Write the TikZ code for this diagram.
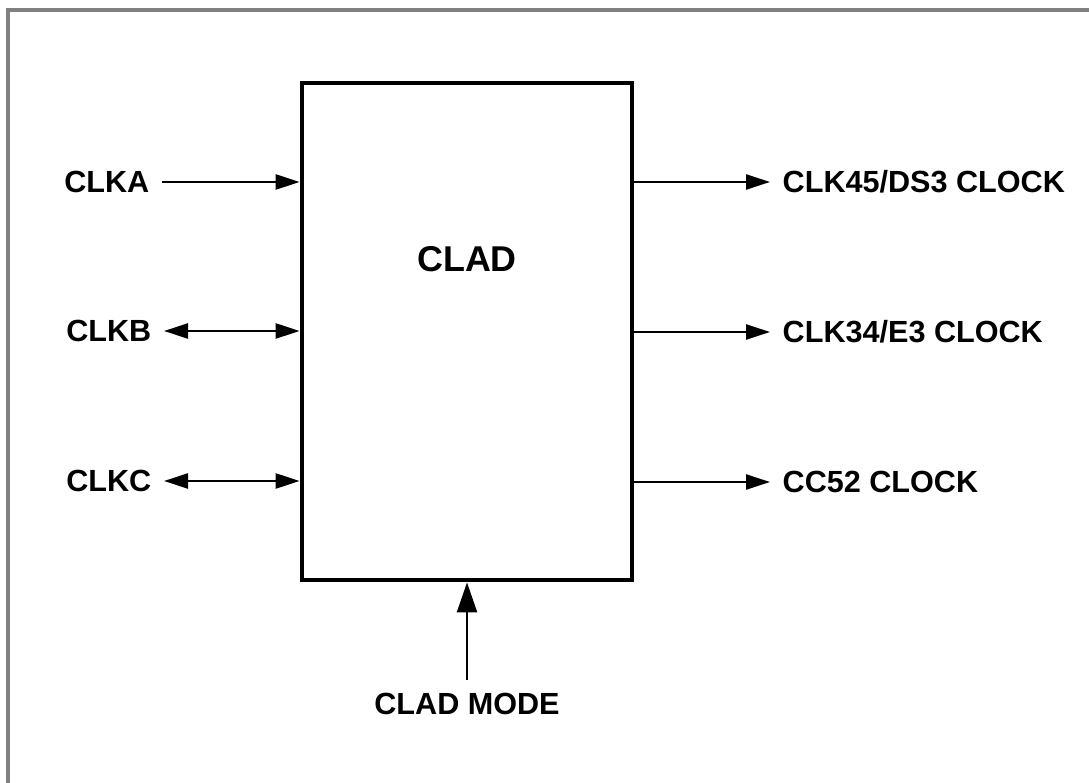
\documentclass[tikz,border=0pt]{standalone}
\usepackage{fontspec}
\setmainfont{Liberation Sans}
\usepackage{tikz}
\usetikzlibrary{arrows.meta, positioning, calc}
\definecolor{cFrame}{RGB}{128,128,128}
\tikzset{
	chip/.style    ={rectangle, draw=black, line width=1.3pt, minimum width=3.3cm, minimum height=4.97cm, inner sep=0pt},
	pinlbl/.style  ={font=\fontsize{8.7}{10}\selectfont\bfseries, inner sep=0.12cm},
	% signal wires, one way and both ways
	sig/.style     ={-{Triangle[length=0.24cm, width=0.15cm]}, line width=0.7pt},
	bisig/.style   ={{Triangle[length=0.24cm, width=0.15cm]}-{Triangle[length=0.24cm, width=0.15cm]}, line width=0.7pt},
}

\begin{document}
\begin{tikzpicture}[x=0.01cm, y=-0.01cm,
					modesig/.style={-{Triangle[length=0.3cm, width=0.2cm]}, line width=0.7pt}]
					\useasboundingbox (0,0) rectangle (1089,783);
					\draw[cFrame, line width=1.2pt] (8,783) -- (8,10) -- (1089,10);
					\node[chip] (clad) at (467,331.5) {};
					\node[font=\fontsize{10.2}{12}\selectfont\bfseries] (cladlbl) at (467,259) {CLAD};
					\node[pinlbl, anchor=east] (clka) at (162,182) {CLKA};
					\node[pinlbl, anchor=east] (clkb) at (164,331) {CLKB};
					\node[pinlbl, anchor=east] (clkc) at (164,481) {CLKC};
					\draw[sig] (clka.east) -- (clka.east -| clad.west);
					\foreach \n in {clkb, clkc} {
						\draw[bisig] (\n.east) -- (\n.east -| clad.west);
					}
					\foreach \n/\y/\t in {ds3/182/{CLK45/DS3 CLOCK}, e3/332/{CLK34/E3 CLOCK}, cc52/482/{CC52 CLOCK}} {
						\node[pinlbl, anchor=west] (\n) at (770,\y) {\t};
						\draw[sig] (\n.west -| clad.east) -- (\n.west);
					}
					\node[pinlbl, anchor=north] (mode) at (467,680) {CLAD MODE};
					\draw[modesig] (mode.north) -- (clad.south);
				\end{tikzpicture}
\end{document}
